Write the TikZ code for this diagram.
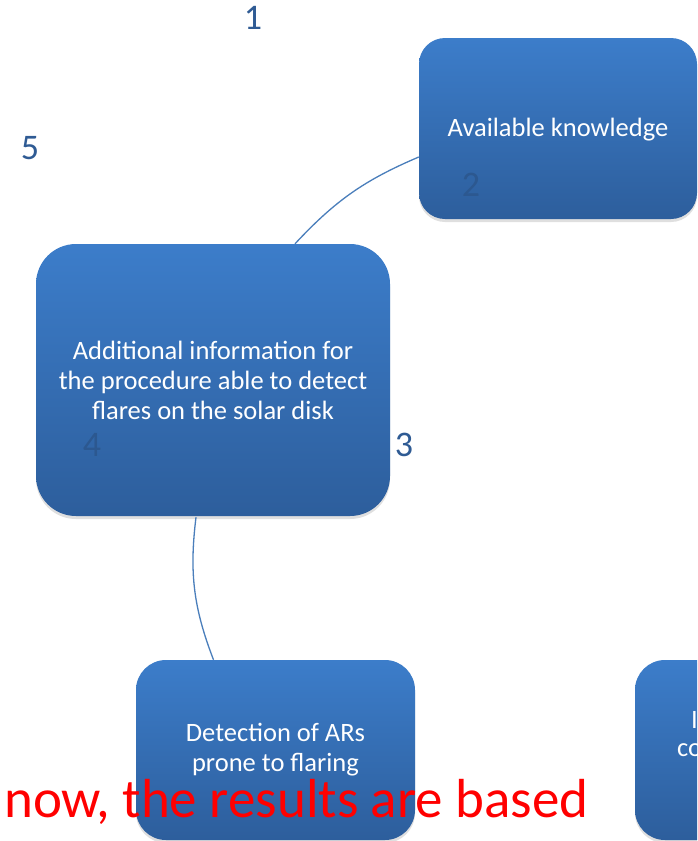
\documentclass[tikz,border=0pt]{standalone}
\usepackage{fontspec}
\setmainfont{Carlito}
\usetikzlibrary{shadows,calc}
\definecolor{boxtop}{HTML}{3C7DCA}
\definecolor{boxbot}{HTML}{2D5E9C}
\definecolor{numblue}{HTML}{2F5B94}
\definecolor{numdark}{HTML}{2C5890}
\definecolor{linkblue}{HTML}{4A7EBB}
\begin{document}
\begin{tikzpicture}[x=1pt,y=-1pt,
 box/.style={rounded corners=#1, top color=boxtop, bottom color=boxbot, draw=none,
   text=white, align=center, font=\fontsize{26.5}{30}\selectfont, inner sep=0pt,
   drop shadow={shadow xshift=0pt, shadow yshift=-3pt, opacity=0.25}},
 box/.default=28pt,
 num/.style={text=numblue, font=\fontsize{36}{36}\selectfont, inner sep=0pt},
 numin/.style={text=numdark, font=\fontsize{36}{36}\selectfont, inner sep=0pt},
 link/.style={draw=linkblue, line width=1.3pt}
]
\useasboundingbox (0,0) rectangle (697,841);
\clip (0,0) rectangle (697,841);
\fill[white] (0,0) rectangle (697,841);

\node[box=26pt, minimum width=278pt, minimum height=181pt] (A) at (558,128.5) {};
\node[text=white, font=\fontsize{26.5}{30}\selectfont, inner sep=0pt] (At) at (558,130) {Available knowledge};
\node[box=40pt, minimum width=354pt, minimum height=272pt] (B) at (213,380) {Additional information for\\the procedure able to detect\\flares on the solar disk};
\node[box=30pt, minimum width=279pt, minimum height=180pt] (C) at (275.5,750) {Detection of ARs\\prone to flaring};
\node[box=30pt, minimum width=279pt, minimum height=180pt] (D) at (774.5,750) {};
\node[anchor=west, text=white, font=\fontsize{26.5}{30}\selectfont, inner sep=0pt] (d1) at (691,720) {I};
\node[anchor=west, text=white, font=\fontsize{26.5}{30}\selectfont, inner sep=0pt] (d2) at (677,750) {co};

\coordinate (a1) at ($(A.west)+(0,28.5)$);
\coordinate (b1) at ($(B.north)+(82,0)$);
\coordinate (b2) at ($(B.south)+(-17,1)$);
\coordinate (c1) at ($(C.north)+(-62,0)$);
\draw[link] (b1) to[bend left=12] (a1);
\draw[link] (b2) to[bend right=14] (c1);

\node[num] (n1) at (253,18) {1};
\node[num] (n5) at (30,148) {5};
\node[numin] (n2) at (471,185) {2};
\node[num] (n3) at (404,445) {3};
\node[numin] (n4) at (92,445) {4};

\node[anchor=base west, text=red, font=\fontsize{55}{55}\selectfont, inner sep=0pt] (red) at (4,817) {now, the results are based};
\end{tikzpicture}
\end{document}
